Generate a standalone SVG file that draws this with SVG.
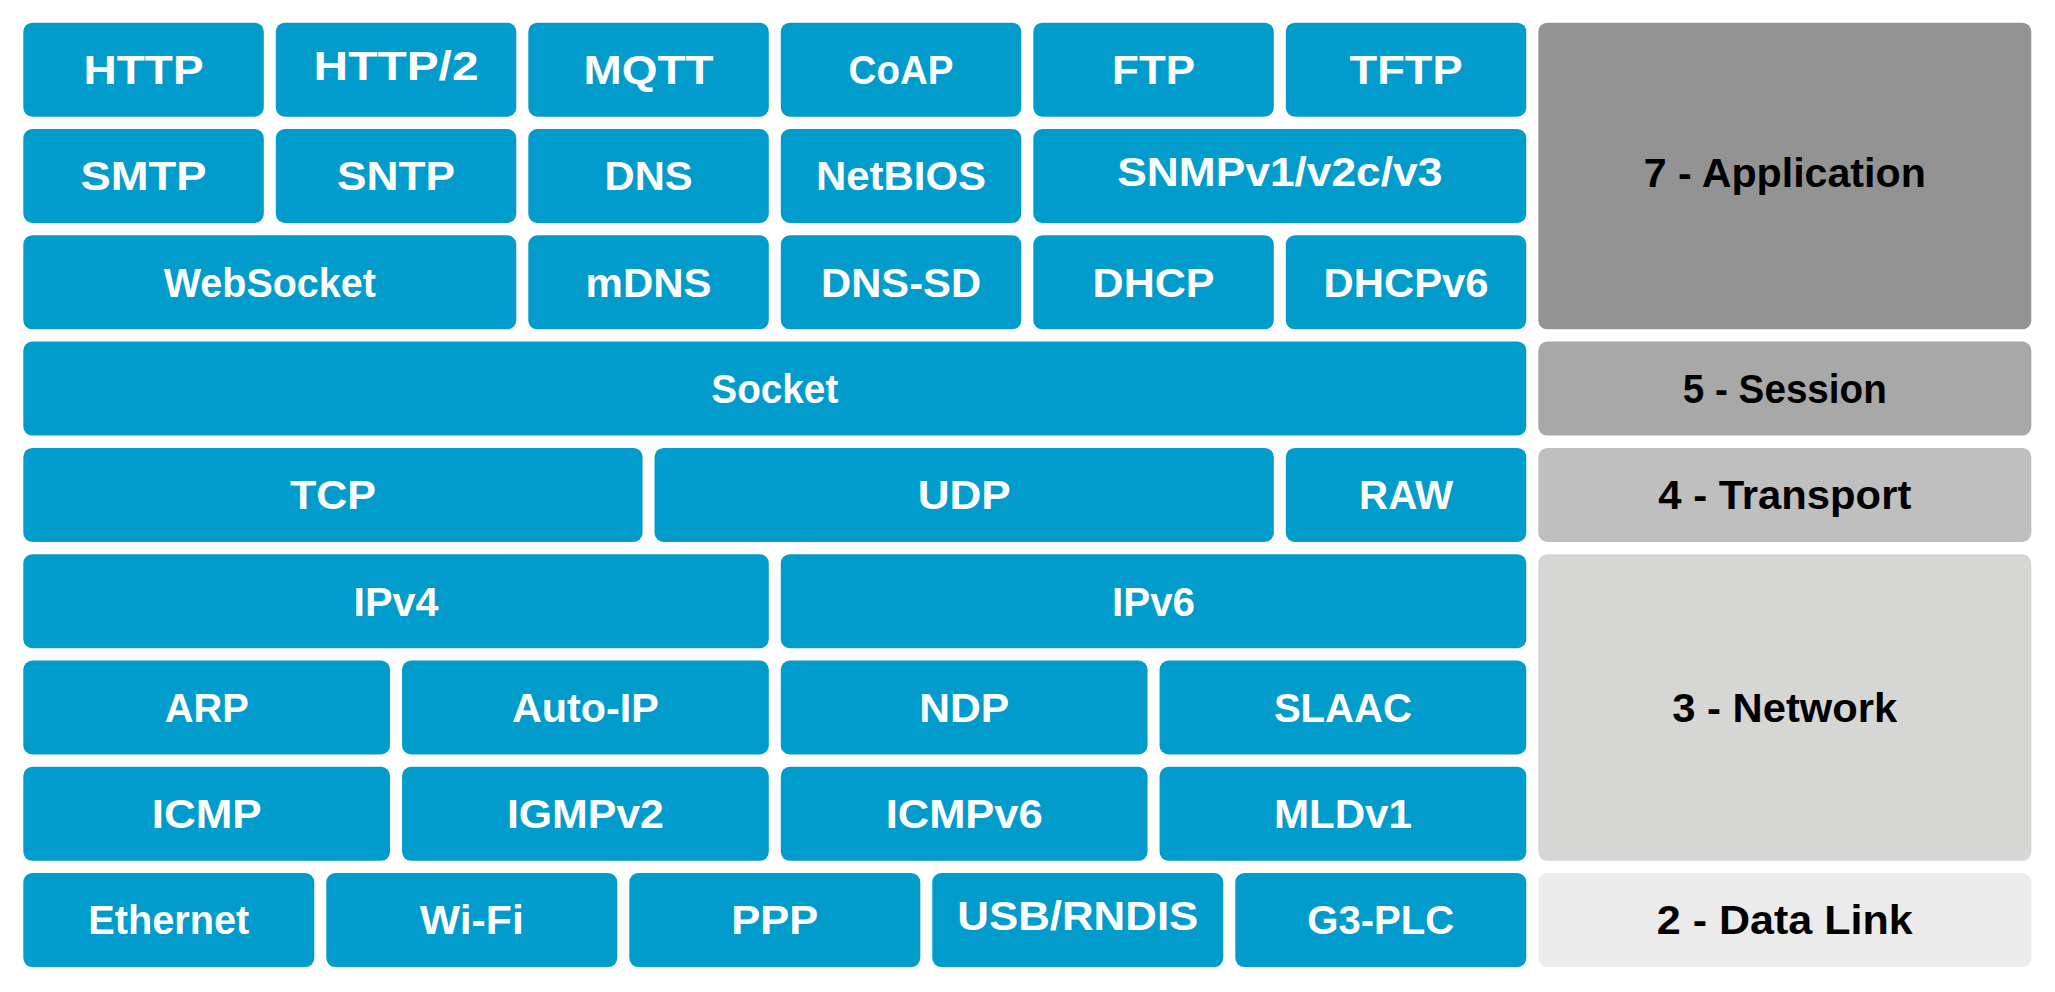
<svg xmlns="http://www.w3.org/2000/svg" width="2055" height="992" viewBox="0 0 2055 992">
<style>
.b{fill:#019ccb}
.t{font-family:"Liberation Sans",Arial,sans-serif;font-weight:bold;font-size:40px;text-anchor:middle;fill:#ffffff}
.lt{font-family:"Liberation Sans",Arial,sans-serif;font-weight:bold;font-size:40px;text-anchor:middle;fill:#000000}
</style>
<rect width="2055" height="992" fill="#ffffff"/>
<g id="n-http"><rect class="b" x="23.3" y="22.7" width="240.5" height="94" rx="9"/><text class="t" x="143.55" y="84" textLength="120" lengthAdjust="spacingAndGlyphs">HTTP</text></g>
<g id="n-http2"><rect class="b" x="275.8" y="22.7" width="240.5" height="94" rx="9"/><text class="t" x="396.05" y="79.5" textLength="165" lengthAdjust="spacingAndGlyphs">HTTP/2</text></g>
<g id="n-mqtt"><rect class="b" x="528.3" y="22.7" width="240.5" height="94" rx="9"/><text class="t" x="648.55" y="84" textLength="130" lengthAdjust="spacingAndGlyphs">MQTT</text></g>
<g id="n-coap"><rect class="b" x="780.8" y="22.7" width="240.5" height="94" rx="9"/><text class="t" x="901.05" y="84" textLength="105" lengthAdjust="spacingAndGlyphs">CoAP</text></g>
<g id="n-ftp"><rect class="b" x="1033.3" y="22.7" width="240.5" height="94" rx="9"/><text class="t" x="1153.55" y="84" textLength="83" lengthAdjust="spacingAndGlyphs">FTP</text></g>
<g id="n-tftp"><rect class="b" x="1285.8" y="22.7" width="240.5" height="94" rx="9"/><text class="t" x="1406.05" y="84" textLength="113" lengthAdjust="spacingAndGlyphs">TFTP</text></g>

<g id="n-smtp"><rect class="b" x="23.3" y="129" width="240.5" height="94" rx="9"/><text class="t" x="143.55" y="190.3" textLength="126" lengthAdjust="spacingAndGlyphs">SMTP</text></g>
<g id="n-sntp"><rect class="b" x="275.8" y="129" width="240.5" height="94" rx="9"/><text class="t" x="396.05" y="190.3" textLength="118" lengthAdjust="spacingAndGlyphs">SNTP</text></g>
<g id="n-dns"><rect class="b" x="528.3" y="129" width="240.5" height="94" rx="9"/><text class="t" x="648.55" y="190.3" textLength="88" lengthAdjust="spacingAndGlyphs">DNS</text></g>
<g id="n-netbios"><rect class="b" x="780.8" y="129" width="240.5" height="94" rx="9"/><text class="t" x="901.05" y="190.3" textLength="170" lengthAdjust="spacingAndGlyphs">NetBIOS</text></g>
<g id="n-snmp"><rect class="b" x="1033.3" y="129" width="493" height="94" rx="9"/><text class="t" x="1279.8" y="186" textLength="325" lengthAdjust="spacingAndGlyphs">SNMPv1/v2c/v3</text></g>

<g id="n-websocket"><rect class="b" x="23.3" y="235.3" width="493" height="94" rx="9"/><text class="t" x="269.8" y="296.6" textLength="212" lengthAdjust="spacingAndGlyphs">WebSocket</text></g>
<g id="n-mdns"><rect class="b" x="528.3" y="235.3" width="240.5" height="94" rx="9"/><text class="t" x="648.55" y="296.6" textLength="126" lengthAdjust="spacingAndGlyphs">mDNS</text></g>
<g id="n-dnssd"><rect class="b" x="780.8" y="235.3" width="240.5" height="94" rx="9"/><text class="t" x="901.05" y="296.6" textLength="160" lengthAdjust="spacingAndGlyphs">DNS-SD</text></g>
<g id="n-dhcp"><rect class="b" x="1033.3" y="235.3" width="240.5" height="94" rx="9"/><text class="t" x="1153.55" y="296.6" textLength="122" lengthAdjust="spacingAndGlyphs">DHCP</text></g>
<g id="n-dhcpv6"><rect class="b" x="1285.8" y="235.3" width="240.5" height="94" rx="9"/><text class="t" x="1406.05" y="296.6" textLength="165" lengthAdjust="spacingAndGlyphs">DHCPv6</text></g>

<g id="n-socket"><rect class="b" x="23.3" y="341.6" width="1503" height="94" rx="9"/><text class="t" x="774.8" y="402.9" textLength="127" lengthAdjust="spacingAndGlyphs">Socket</text></g>

<g id="n-tcp"><rect class="b" x="23.3" y="447.9" width="619.25" height="94" rx="9"/><text class="t" x="332.9" y="509.2" textLength="86" lengthAdjust="spacingAndGlyphs">TCP</text></g>
<g id="n-udp"><rect class="b" x="654.55" y="447.9" width="619.25" height="94" rx="9"/><text class="t" x="964.2" y="509.2" textLength="93" lengthAdjust="spacingAndGlyphs">UDP</text></g>
<g id="n-raw"><rect class="b" x="1285.8" y="447.9" width="240.5" height="94" rx="9"/><text class="t" x="1406.05" y="509.2" textLength="94" lengthAdjust="spacingAndGlyphs">RAW</text></g>

<g id="n-ipv4"><rect class="b" x="23.3" y="554.2" width="745.5" height="94" rx="9"/><text class="t" x="396.05" y="615.5" textLength="85" lengthAdjust="spacingAndGlyphs">IPv4</text></g>
<g id="n-ipv6"><rect class="b" x="780.8" y="554.2" width="745.5" height="94" rx="9"/><text class="t" x="1153.55" y="615.5" textLength="83" lengthAdjust="spacingAndGlyphs">IPv6</text></g>

<g id="n-arp"><rect class="b" x="23.3" y="660.5" width="366.75" height="94" rx="9"/><text class="t" x="206.7" y="721.8" textLength="84" lengthAdjust="spacingAndGlyphs">ARP</text></g>
<g id="n-autoip"><rect class="b" x="402.05" y="660.5" width="366.75" height="94" rx="9"/><text class="t" x="585.4" y="721.8" textLength="147" lengthAdjust="spacingAndGlyphs">Auto-IP</text></g>
<g id="n-ndp"><rect class="b" x="780.8" y="660.5" width="366.75" height="94" rx="9"/><text class="t" x="964.2" y="721.8" textLength="90" lengthAdjust="spacingAndGlyphs">NDP</text></g>
<g id="n-slaac"><rect class="b" x="1159.55" y="660.5" width="366.75" height="94" rx="9"/><text class="t" x="1342.9" y="721.8" textLength="138" lengthAdjust="spacingAndGlyphs">SLAAC</text></g>

<g id="n-icmp"><rect class="b" x="23.3" y="766.8" width="366.75" height="94" rx="9"/><text class="t" x="206.7" y="828.1" textLength="110" lengthAdjust="spacingAndGlyphs">ICMP</text></g>
<g id="n-igmpv2"><rect class="b" x="402.05" y="766.8" width="366.75" height="94" rx="9"/><text class="t" x="585.4" y="828.1" textLength="157" lengthAdjust="spacingAndGlyphs">IGMPv2</text></g>
<g id="n-icmpv6"><rect class="b" x="780.8" y="766.8" width="366.75" height="94" rx="9"/><text class="t" x="964.2" y="828.1" textLength="157" lengthAdjust="spacingAndGlyphs">ICMPv6</text></g>
<g id="n-mldv1"><rect class="b" x="1159.55" y="766.8" width="366.75" height="94" rx="9"/><text class="t" x="1342.9" y="828.1" textLength="138" lengthAdjust="spacingAndGlyphs">MLDv1</text></g>

<g id="n-ethernet"><rect class="b" x="23.3" y="873.1" width="291" height="94" rx="9"/><text class="t" x="168.8" y="934.4" textLength="161" lengthAdjust="spacingAndGlyphs">Ethernet</text></g>
<g id="n-wifi"><rect class="b" x="326.3" y="873.1" width="291" height="94" rx="9"/><text class="t" x="471.8" y="934.4" textLength="104" lengthAdjust="spacingAndGlyphs">Wi-Fi</text></g>
<g id="n-ppp"><rect class="b" x="629.3" y="873.1" width="291" height="94" rx="9"/><text class="t" x="774.8" y="934.4" textLength="87" lengthAdjust="spacingAndGlyphs">PPP</text></g>
<g id="n-usb"><rect class="b" x="932.3" y="873.1" width="291" height="94" rx="9"/><text class="t" x="1077.8" y="930.4" textLength="241" lengthAdjust="spacingAndGlyphs">USB/RNDIS</text></g>
<g id="n-g3plc"><rect class="b" x="1235.3" y="873.1" width="291" height="94" rx="9"/><text class="t" x="1380.8" y="934.4" textLength="147" lengthAdjust="spacingAndGlyphs">G3-PLC</text></g>

<g id="layer-7"><rect x="1538.3" y="22.7" width="493" height="306.6" rx="9" fill="#939393"/><text class="lt" x="1784.8" y="186.8" textLength="282" lengthAdjust="spacingAndGlyphs">7 - Application</text></g>
<g id="layer-5"><rect x="1538.3" y="341.6" width="493" height="94" rx="9" fill="#a8a8a8"/><text class="lt" x="1784.8" y="402.9" textLength="204" lengthAdjust="spacingAndGlyphs">5 - Session</text></g>
<g id="layer-4"><rect x="1538.3" y="447.9" width="493" height="94" rx="9" fill="#bfbfbf"/><text class="lt" x="1784.8" y="509.2" textLength="253" lengthAdjust="spacingAndGlyphs">4 - Transport</text></g>
<g id="layer-3"><rect x="1538.3" y="554.2" width="493" height="306.6" rx="9" fill="#d6d6d5"/><text class="lt" x="1784.8" y="721.8" textLength="225" lengthAdjust="spacingAndGlyphs">3 - Network</text></g>
<g id="layer-2"><rect x="1538.3" y="873.1" width="493" height="94" rx="9" fill="#ebebeb"/><text class="lt" x="1784.8" y="934.4" textLength="256" lengthAdjust="spacingAndGlyphs">2 - Data Link</text></g>
</svg>
